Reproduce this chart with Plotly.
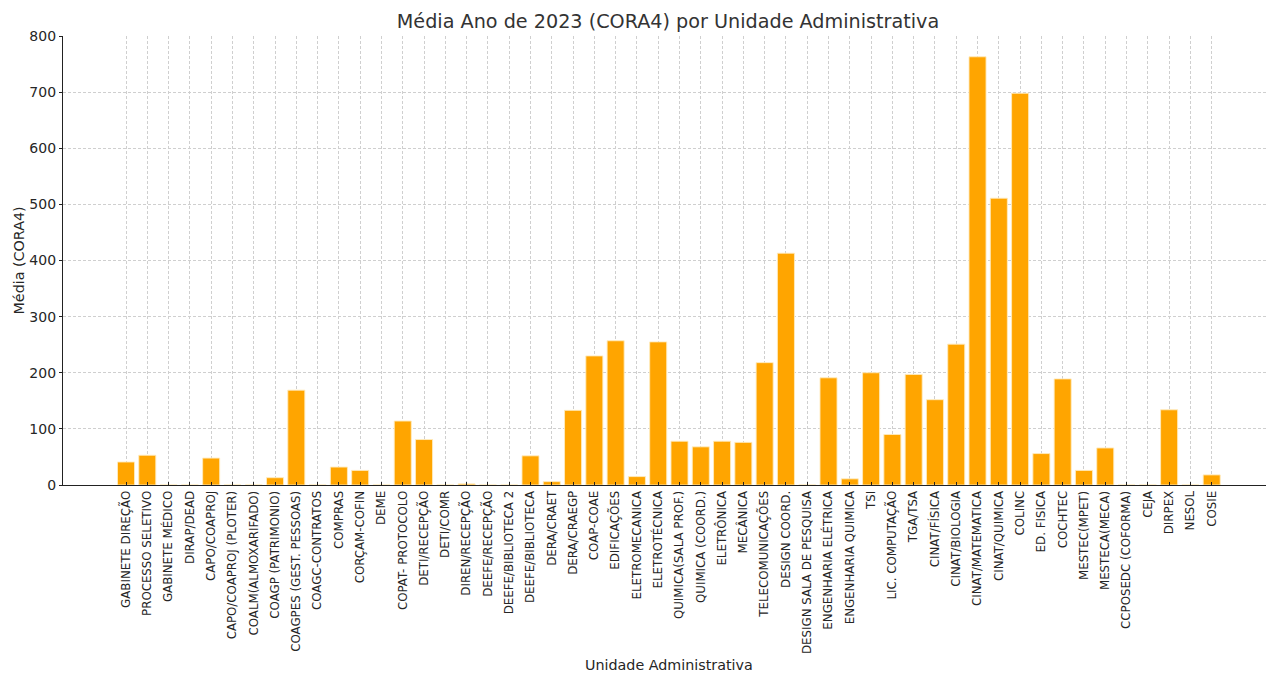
import plotly.graph_objects as go

units = [
    "GABINETE DIREÇÃO", "PROCESSO SELETIVO", "GABINETE MÉDICO", "DIRAP/DEAD",
    "CAPO/COAPROJ", "CAPO/COAPROJ (PLOTER)", "COALM(ALMOXARIFADO)", "COAGP (PATRIMONIO)",
    "COAGPES (GEST. PESSOAS)", "COAGC-CONTRATOS", "COMPRAS", "CORÇAM-COFIN", "DEME",
    "COPAT- PROTOCOLO", "DETI/RECEPÇÃO", "DETI/COMR", "DIREN/RECEPÇÃO", "DEEFE/RECEPÇÃO",
    "DEEFE/BIBLIOTECA 2", "DEEFE/BIBLIOTECA", "DERA/CRAET", "DERA/CRAEGP", "COAP-COAE",
    "EDIFICAÇÕES", "ELETROMECANICA", "ELETROTÉCNICA", "QUIMICA(SALA PROF.)",
    "QUIMICA (COORD.)", "ELETRÔNICA", "MECÂNICA", "TELECOMUNICAÇÕES", "DESIGN COORD.",
    "DESIGN SALA DE PESQUISA", "ENGENHARIA ELÉTRICA", "ENGENHARIA QUIMICA", "TSI",
    "LIC. COMPUTAÇÃO", "TGA/TSA", "CINAT/FÍSICA", "CINAT/BIOLOGIA", "CINAT/MATEMATICA",
    "CINAT/QUIMICA", "COLINC", "ED. FISICA", "COCHTEC", "MESTEC(MPET)", "MESTECA(MECA)",
    "CCPOSEDC (COFORMA)", "CEJA", "DIRPEX", "NESOL", "COSIE",
]

media_cora4 = [
    41, 53, 0, 0,
    48, 0, 0, 13,
    169, 0, 32, 26, 0,
    114, 81, 0, 2, 0,
    0, 52, 6, 133, 230,
    257, 15, 255, 78,
    68, 78, 76, 218, 413,
    0, 191, 11, 200,
    90, 197, 152, 251, 763,
    511, 698, 56, 189, 26, 66,
    0, 0, 134, 0, 18,
]

y_ticks = [0, 100, 200, 300, 400, 500, 600, 700, 800]

FONT = "DejaVu Sans"
TXT = "#262626"
W, H = 1266, 667

fig = go.Figure()
fig.add_trace(go.Bar(
    x=list(range(len(units))),
    y=media_cora4,
    width=0.8,
    marker=dict(color="#FFA500", line=dict(color="rgba(255,235,190,0.9)", width=1)),
    hoverinfo="x+y",
))

fig.update_layout(
    width=W, height=H,
    margin=dict(l=55, r=1, t=28, b=190, autoexpand=False),
    paper_bgcolor="white", plot_bgcolor="white",
    font=dict(family=FONT, color=TXT),
    showlegend=False,
    bargap=0.2,
    title=dict(text="Média Ano de 2023 (CORA4) por Unidade Administrativa",
               x=(668 - 8) / W, xanchor="center", y=1 - 13 / H, yanchor="middle",
               font=dict(size=19.2, color="#333333", family=FONT)),
)

fig.update_xaxes(
    range=[-2.96, 53.88],
    tickmode="array",
    tickvals=list(range(len(units))),
    ticktext=units,
    tickangle=-90,
    tickfont=dict(size=11.8, color=TXT, family=FONT),
    showgrid=True, gridcolor="#cfcfcf", griddash="3px,2px", gridwidth=0.8,
    showline=True, linecolor="#222222", linewidth=1.2, mirror=False,
    ticks="inside", ticklen=3, tickcolor="#222222",
    zeroline=False,
)
fig.update_yaxes(
    range=[0, 800],
    tickmode="array",
    tickvals=y_ticks,
    ticktext=[str(v) for v in y_ticks],
    tickfont=dict(size=14, color=TXT, family=FONT),
    showgrid=True, gridcolor="#cfcfcf", griddash="3px,2px", gridwidth=0.8,
    showline=True, linecolor="#222222", linewidth=1.2, mirror=False,
    ticks="outside", ticklen=3, tickcolor="#222222",
    zeroline=False,
)

fig.add_annotation(text="Unidade Administrativa", xref="paper", yref="paper",
                   x=(669 - 63) / 1210, y=0, yshift=-180, xanchor="center", yanchor="middle",
                   showarrow=False, font=dict(size=14.3, color=TXT, family=FONT))
fig.add_annotation(text="Média (CORA4)", xref="paper", yref="paper",
                   x=0, xshift=-45, y=0.5, xanchor="center", yanchor="middle",
                   textangle=-90, showarrow=False,
                   font=dict(size=14.3, color=TXT, family=FONT))

fig.write_html("out.html")
